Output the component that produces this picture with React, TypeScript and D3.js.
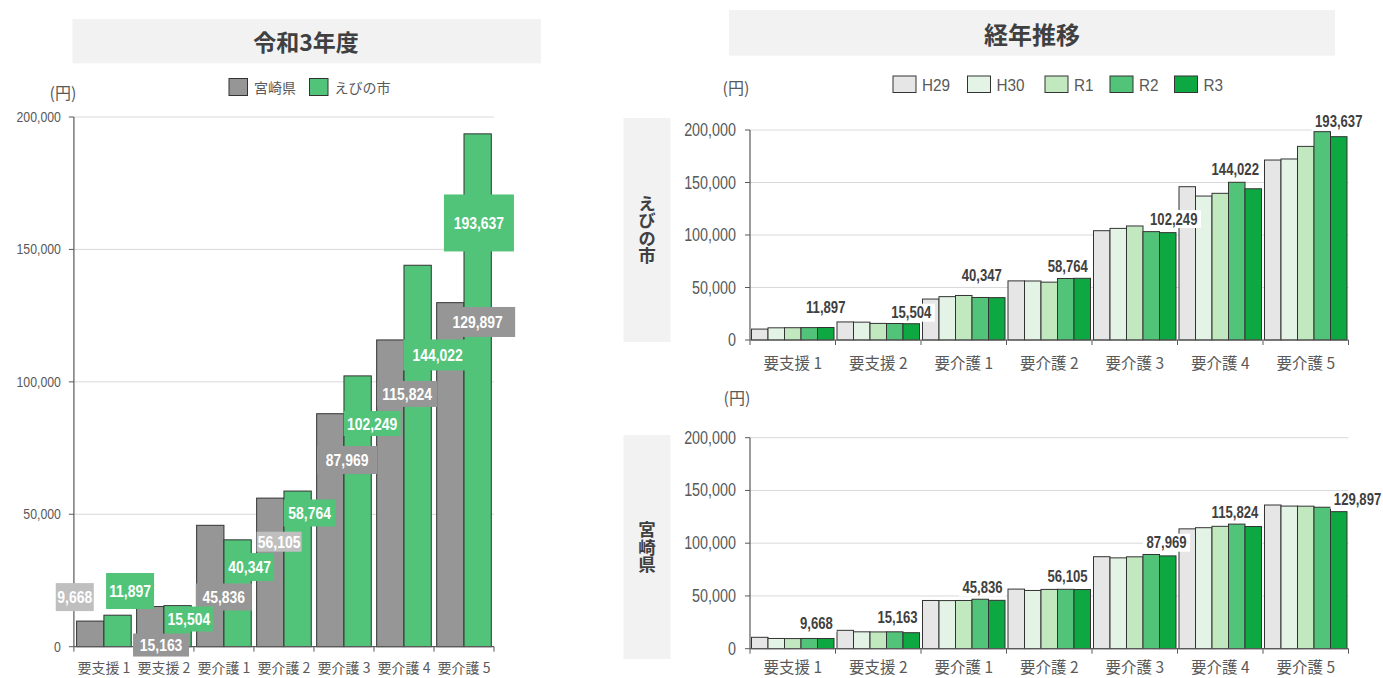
import React from "react";
import * as d3 from "d3";

// ---------------- data ----------------
const CATEGORIES = ["要支援 1", "要支援 2", "要介護 1", "要介護 2", "要介護 3", "要介護 4", "要介護 5"];
const Y_TICKS = [0, 50000, 100000, 150000, 200000];

// 令和3年度
const MIYAZAKI_R3 = [9668, 15163, 45836, 56105, 87969, 115824, 129897];
const EBINO_R3 = [11897, 15504, 40347, 58764, 102249, 144022, 193637];
const LEFT_SERIES = ["宮崎県", "えびの市"];

// 経年推移
const YEARS = ["H29", "H30", "R1", "R2", "R3"];
const EBINO_H29 = [10400, 17200, 39000, 56300, 104100, 146000, 171400];
const EBINO_H30 = [11600, 17000, 41300, 56200, 106300, 137100, 172400];
const EBINO_R1 = [11700, 15800, 42400, 55100, 108600, 139700, 184400];
const EBINO_R2 = [11800, 15700, 40500, 58600, 103200, 150200, 198400];
const MIYAZAKI_H29 = [10800, 17400, 45700, 56500, 87200, 113600, 136200];
const MIYAZAKI_H30 = [9700, 16000, 45600, 55200, 86100, 114700, 135200];
const MIYAZAKI_R1 = [9600, 15900, 45700, 56200, 87100, 116000, 135100];
const MIYAZAKI_R2 = [9700, 16000, 46900, 56300, 89300, 118100, 134100];

// ---------------- styles / layout ----------------
const JP = "'Noto Sans CJK JP', 'Noto Sans', sans-serif";
const NUM = "'Liberation Sans', Arial, sans-serif";
const NARROW = 0.82;
const GREY = "#969696";
const LIGHT_GREY = "#BFBFBF";
const GREEN = "#52C47A";
const YEAR_COLORS = ["#E6E6E6", "#E3F4E6", "#C2E8C0", "#52C47A", "#0EA842"];
const AXIS = "#595959";
const GRID = "#D9D9D9";
const BAR_STROKE = "#333333";
const TITLE_BG = "#F2F2F2";

// label boxes of the left chart, relative to the top-centre of their bar
const LEFT_GREY_LABELS = [
  { dx: -15.5, dy: -24, w: 38, h: 28, light: true },
  { dx: 10.8, dy: 38.5, w: 56, h: 23, light: false },
  { dx: 13.5, dy: 71.7, w: 56, h: 27, light: false },
  { dx: 8.8, dy: 43.6, w: 45, h: 20, light: true },
  { dx: 16.8, dy: 46.3, w: 60, h: 28, light: false },
  { dx: 16.8, dy: 54, w: 60, h: 26, light: false },
  { dx: 27.3, dy: 19.3, w: 75, h: 30, light: false },
];
const LEFT_GREEN_LABELS = [
  { dx: 12.5, dy: -24.2, w: 48, h: 36 },
  { dx: 11.3, dy: 13.4, w: 48, h: 25 },
  { dx: 12, dy: 27.2, w: 49, h: 28 },
  { dx: 12, dy: 21.9, w: 52, h: 27 },
  { dx: 14.5, dy: 47.6, w: 57, h: 25 },
  { dx: 20, dy: 89.7, w: 69, h: 31 },
  { dx: 1.3, dy: 89.1, w: 70, h: 57 },
];
// labels of the trend charts, relative to the R3 bar top-centre
const TOP_LABELS = [
  { dx: 0, dy: -20 }, { dx: 0, dy: -11 }, { dx: -15, dy: -22.6 }, { dx: -14.5, dy: -11.6 },
  { dx: 6, dy: -13.6 }, { dx: -18, dy: -18.8 }, { dx: 0, dy: -15 },
];
const BOTTOM_LABELS = [
  { dx: -9.3, dy: -15.2 }, { dx: -13.8, dy: -15 }, { dx: -14.3, dy: -13 }, { dx: -14.8, dy: -12.8 },
  { dx: -1.3, dy: -13.2 }, { dx: -18.3, dy: -13.8 }, { dx: 18.8, dy: -11.7 },
];

const fmt = d3.format(",");

type NTextProps = {
  x: number; y: number; size: number; anchor?: "start" | "middle" | "end";
  weight?: number; fill: string; sx?: number; children: React.ReactNode;
};
function NText({ x, y, size, anchor = "middle", weight = 400, fill, sx = NARROW, children }: NTextProps) {
  return (
    <text transform={`translate(${x},${y}) scale(${sx},1)`} textAnchor={anchor} dominantBaseline="central" fontFamily={NUM} fontWeight={weight} fontSize={size} fill={fill}>
      {children}
    </text>
  );
}

// ---------------- left chart ----------------
function LeftChart() {
  const x0 = 73.9, x1 = 494, yBottom = 646.7, yTop = 117;
  const x = d3.scaleBand<string>().domain(CATEGORIES).range([x0, x1]).paddingInner(0.09).paddingOuter(0.045);
  const sub = d3.scaleBand<string>().domain(LEFT_SERIES).range([0, x.bandwidth()]);
  const y = d3.scaleLinear().domain([0, 200000]).range([yBottom, yTop]);
  const step = x.step();
  const boundaries = d3.range(CATEGORIES.length + 1).map((i) => x0 + i * step);
  const series = [
    { name: LEFT_SERIES[0], values: MIYAZAKI_R3, color: GREY },
    { name: LEFT_SERIES[1], values: EBINO_R3, color: GREEN },
  ];

  return (
    <g>
      <rect x={72.5} y={19} width={468.5} height={44.3} fill={TITLE_BG} />
      <text x={306} y={41} textAnchor="middle" dominantBaseline="central" fontFamily={JP} fontWeight={700} fontSize={23} fill="#404040">令和3年度</text>

      {/* legend */}
      {series.map((s, i) => {
        const lx = [229, 309.5][i];
        return (
          <g key={s.name}>
            <rect x={lx} y={78.5} width={18.5} height={17} fill={s.color} stroke={BAR_STROKE} strokeWidth={1} />
            <text x={lx + 25} y={87} dominantBaseline="central" fontFamily={JP} fontSize={14} fill={AXIS}>{s.name}</text>
          </g>
        );
      })}
      <text x={63} y={92} textAnchor="middle" dominantBaseline="central" fontFamily={JP} fontSize={16} fill={AXIS}>(円)</text>

      {/* grid & y axis */}
      {Y_TICKS.map((t) => (
        <g key={t}>
          {t > 0 && <line x1={x0} x2={x1} y1={y(t)} y2={y(t)} stroke={GRID} strokeWidth={1} />}
          <line x1={x0 - 5} x2={x0} y1={y(t)} y2={y(t)} stroke={AXIS} strokeWidth={1} />
          <NText x={x0 - 13} y={y(t)} anchor="end" size={15} fill={AXIS}>{fmt(t)}</NText>
        </g>
      ))}

      {/* bars */}
      {series.map((s) =>
        CATEGORIES.map((c, i) => (
          <rect key={s.name + c} x={(x(c) ?? 0) + (sub(s.name) ?? 0)} y={y(s.values[i])} width={sub.bandwidth()} height={yBottom - y(s.values[i])} fill={s.color} stroke={BAR_STROKE} strokeWidth={1} />
        ))
      )}

      <line x1={x0} x2={x0} y1={yTop} y2={yBottom} stroke={AXIS} strokeWidth={1.2} />
      <line x1={x0} x2={x1} y1={yBottom} y2={yBottom} stroke={AXIS} strokeWidth={1.2} />
      {boundaries.map((b, i) => (
        <line key={i} x1={b} x2={b} y1={yBottom} y2={yBottom + 5} stroke={AXIS} strokeWidth={1} />
      ))}
      {CATEGORIES.map((c) => (
        <text key={c} x={(x(c) ?? 0) + x.bandwidth() / 2} y={667} textAnchor="middle" dominantBaseline="central" fontFamily={JP} fontSize={14} fill={AXIS}>{c}</text>
      ))}

      {/* data labels */}
      {CATEGORIES.map((c, i) => {
        const L = LEFT_GREY_LABELS[i];
        const cx = (x(c) ?? 0) + (sub(LEFT_SERIES[0]) ?? 0) + sub.bandwidth() / 2 + L.dx;
        const cy = y(MIYAZAKI_R3[i]) + L.dy;
        return (
          <g key={"gl" + c}>
            <rect x={cx - L.w / 2} y={cy - L.h / 2} width={L.w} height={L.h} fill={L.light ? LIGHT_GREY : GREY} />
            <NText x={cx} y={cy} size={17} weight={700} fill="#fff">{fmt(MIYAZAKI_R3[i])}</NText>
          </g>
        );
      })}
      {CATEGORIES.map((c, i) => {
        const L = LEFT_GREEN_LABELS[i];
        const cx = (x(c) ?? 0) + (sub(LEFT_SERIES[1]) ?? 0) + sub.bandwidth() / 2 + L.dx;
        const cy = y(EBINO_R3[i]) + L.dy;
        return (
          <g key={"gr" + c}>
            <rect x={cx - L.w / 2} y={cy - L.h / 2} width={L.w} height={L.h} fill={GREEN} />
            <NText x={cx} y={cy} size={17} weight={700} fill="#fff">{fmt(EBINO_R3[i])}</NText>
          </g>
        );
      })}
    </g>
  );
}

// ---------------- trend charts ----------------
type TrendProps = {
  series: number[][];
  yBottom: number;
  yTop: number;
  labels: { dx: number; dy: number }[];
  side: string;
  sideBox: [number, number];
  sideTextY: number;
  unitY: number | null;
  xLabelY: number;
};

function TrendChart({ series, yBottom, yTop, labels, side, sideBox, sideTextY, unitY, xLabelY }: TrendProps) {
  const x0 = 750, x1 = 1348.5;
  const x = d3.scaleBand<string>().domain(CATEGORIES).range([x0, x1]).paddingInner(0.035).paddingOuter(0.0175);
  const sub = d3.scaleBand<string>().domain(YEARS).range([0, x.bandwidth()]);
  const y = d3.scaleLinear().domain([0, 200000]).range([yBottom, yTop]);
  const step = x.step();
  const boundaries = d3.range(CATEGORIES.length + 1).map((i) => x0 + i * step);
  const last = series[series.length - 1];

  return (
    <g>
      <rect x={623.5} y={sideBox[0]} width={47} height={sideBox[1] - sideBox[0]} fill={TITLE_BG} />
      <text x={647} y={sideTextY} textAnchor="middle" dominantBaseline="central" fontFamily={JP} fontWeight={700} fontSize={17.5} fill="#404040" style={{ writingMode: "vertical-rl" }}>{side}</text>
      {unitY !== null && (
        <text x={737} y={unitY} textAnchor="middle" dominantBaseline="central" fontFamily={JP} fontSize={16} fill={AXIS}>(円)</text>
      )}

      {Y_TICKS.map((t) => (
        <g key={t}>
          {t > 0 && <line x1={x0} x2={x1} y1={y(t)} y2={y(t)} stroke={GRID} strokeWidth={1} />}
          <line x1={x0 - 5} x2={x0} y1={y(t)} y2={y(t)} stroke={AXIS} strokeWidth={1} />
          <NText x={x0 - 14} y={y(t)} anchor="end" size={17.5} fill={AXIS}>{fmt(t)}</NText>
        </g>
      ))}

      {series.map((vals, si) =>
        CATEGORIES.map((c, i) => (
          <rect key={si + c} x={(x(c) ?? 0) + (sub(YEARS[si]) ?? 0)} y={y(vals[i])} width={sub.bandwidth()} height={yBottom - y(vals[i])} fill={YEAR_COLORS[si]} stroke={BAR_STROKE} strokeWidth={1} />
        ))
      )}

      <line x1={x0} x2={x0} y1={yTop} y2={yBottom} stroke={AXIS} strokeWidth={1.2} />
      <line x1={x0} x2={x1} y1={yBottom} y2={yBottom} stroke={AXIS} strokeWidth={1.2} />
      {boundaries.map((b, i) => (
        <line key={i} x1={b} x2={b} y1={yBottom} y2={yBottom + 5} stroke={AXIS} strokeWidth={1} />
      ))}
      {CATEGORIES.map((c) => (
        <text key={c} x={(x(c) ?? 0) + x.bandwidth() / 2} y={xLabelY} textAnchor="middle" dominantBaseline="central" fontFamily={JP} fontSize={15.5} fill={AXIS}>{c}</text>
      ))}

      {CATEGORIES.map((c, i) => {
        const L = labels[i];
        const cx = (x(c) ?? 0) + (sub(YEARS[YEARS.length - 1]) ?? 0) + sub.bandwidth() / 2 + L.dx;
        const cy = y(last[i]) + L.dy;
        const label = fmt(last[i]);
        const w = label.length * 7.2 + 4;
        return (
          <g key={"l" + c}>
            <rect x={cx - w / 2} y={cy - 9} width={w} height={18} fill="#fff" />
            <NText x={cx} y={cy} size={16} weight={700} fill="#404040">{label}</NText>
          </g>
        );
      })}
    </g>
  );
}

function RightPanel() {
  return (
    <g>
      <rect x={729} y={10} width={606} height={45.7} fill={TITLE_BG} />
      <text x={1032} y={33} textAnchor="middle" dominantBaseline="central" fontFamily={JP} fontWeight={700} fontSize={24} fill="#404040">経年推移</text>
      <text x={736} y={87} textAnchor="middle" dominantBaseline="central" fontFamily={JP} fontSize={16} fill={AXIS}>(円)</text>
      {YEARS.map((yr, i) => {
        const lx = [893, 967.5, 1045, 1110, 1174.5][i];
        return (
          <g key={yr}>
            <rect x={lx} y={76} width={23} height={16.5} fill={YEAR_COLORS[i]} stroke={BAR_STROKE} strokeWidth={1} />
            <NText x={lx + 29} y={84.5} anchor="start" size={17} sx={0.9} fill={AXIS}>{yr}</NText>
          </g>
        );
      })}
      <TrendChart
        series={[EBINO_H29, EBINO_H30, EBINO_R1, EBINO_R2, EBINO_R3]}
        yBottom={340}
        yTop={130}
        labels={TOP_LABELS}
        side="えびの市"
        sideBox={[118, 342]}
        sideTextY={229.5}
        unitY={null}
        xLabelY={362}
      />
      <TrendChart
        series={[MIYAZAKI_H29, MIYAZAKI_H30, MIYAZAKI_R1, MIYAZAKI_R2, MIYAZAKI_R3]}
        yBottom={648.7}
        yTop={437.7}
        labels={BOTTOM_LABELS}
        side="宮崎県"
        sideBox={[435, 659]}
        sideTextY={547}
        unitY={397}
        xLabelY={666}
      />
    </g>
  );
}

export default function App() {
  return (
    <svg width={1383} height={678} viewBox="0 0 1383 678" style={{ position: "absolute", left: 0, top: 0, background: "#fff" }}>
      <rect x={0} y={0} width={1383} height={678} fill="#fff" />
      <LeftChart />
      <RightPanel />
    </svg>
  );
}
